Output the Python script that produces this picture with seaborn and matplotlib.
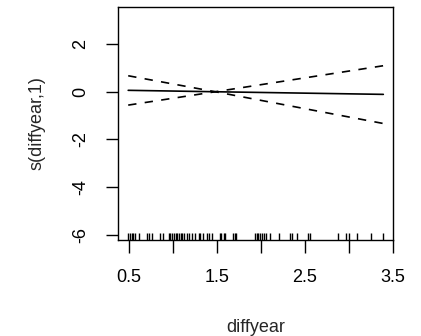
import numpy as np
import pandas as pd
import seaborn as sns
import matplotlib.pyplot as plt

# values
xs = [0.49, 1.48, 3.39]
fit = [0.06, 0.0, -0.11]
upper = [0.67, 0.0, 1.09]
lower = [-0.56, 0.0, -1.33]

rug_x = [0.49, 0.51, 0.53, 0.55, 0.57, 0.61, 0.70, 0.73, 0.76, 0.85, 0.89,
         0.95, 0.97, 0.99, 1.01, 1.03, 1.05, 1.07, 1.09, 1.10,
         1.125, 1.155, 1.185, 1.216, 1.25, 1.29, 1.31, 1.345, 1.39, 1.41,
         1.44, 1.53, 1.55, 1.58, 1.59, 1.68, 1.70, 1.71,
         1.93, 1.95, 1.97, 1.99, 2.01, 2.03, 2.06, 2.10, 2.20, 2.33, 2.35,
         2.41, 2.53, 2.56, 2.88, 2.97, 3.00, 3.09, 3.25, 3.39]

xticks = [0.5, 1.0, 1.5, 2.0, 2.5, 3.0, 3.5]
xticklabels = ['0.5', '', '1.5', '', '2.5', '', '3.5']
yticks = [-6, -4, -2, 0, 2]

sns.set_style('ticks')
plt.rcParams['font.family'] = ['Liberation Sans', 'DejaVu Sans']

fig = plt.figure(figsize=(4.21, 3.36), dpi=100)
ax = fig.add_axes([118 / 421, 1 - 240 / 336, 275 / 421, 233 / 336])

df = pd.DataFrame({'x': xs, 'fit': fit, 'upper': upper, 'lower': lower})
sns.lineplot(data=df, x='x', y='fit', color='black', lw=1.2, ax=ax)
for col in ['upper', 'lower']:
    sns.lineplot(data=df, x='x', y=col, color='black', lw=1.2, ax=ax)
    ax.lines[-1].set_dashes((5, 5))

# rug of observed diffyear values
sns.rugplot(x=rug_x, height=0.03, color='black', lw=1.0, ax=ax)

ax.set_xlim(0.374, 3.5)
ax.set_ylim(-6.21, 3.55)
ax.set_xticks(xticks)
ax.set_xticklabels(xticklabels)
ax.set_yticks(yticks)
ax.set_yticklabels([str(t) for t in yticks], rotation=90, va='center')
ax.tick_params(direction='out', length=9, width=1, labelsize=13, pad=12,
               colors='black')
for s in ax.spines.values():
    s.set_linewidth(1.0)
    s.set_color('black')

ax.set_xlabel('diffyear', fontsize=13, labelpad=24)
ax.set_ylabel('s(diffyear,1)', fontsize=13, labelpad=19)

fig.savefig('out.png', dpi=100)
